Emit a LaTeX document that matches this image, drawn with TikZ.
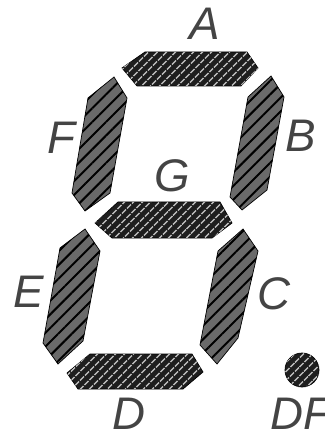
\documentclass[tikz,border=0pt]{standalone}
\usepackage{fontspec}
\setmainfont{Liberation Sans}
\usetikzlibrary{patterns.meta}
\definecolor{SegDark}{HTML}{1E1E1E}
\definecolor{SegGrey}{HTML}{6A6A6A}
\definecolor{SegDot}{HTML}{B4B4B4}
\definecolor{LabelInk}{HTML}{444444}
\tikzset{
  seghoriz/.style={draw=black,line width=0.6pt,fill=SegDark,postaction={pattern={Lines[angle=45,distance=1.9mm,line width=0.5mm]},pattern color=SegDot}},
  segvert/.style={draw=black,line width=0.6pt,fill=SegGrey,postaction={pattern={Lines[angle=45,distance=2.9mm,line width=0.6mm]},pattern color=black}},
  seglabel/.style={inner sep=0pt,text=LabelInk,font=\fontsize{39}{39}\selectfont\itshape}
}
\begin{document}
\begin{tikzpicture}[x=0.03cm,y=-0.03cm]
\path[use as bounding box] (0,0) rectangle (324,433);
\path[seghoriz] (122,68) -- (145,52) -- (247,52) -- (258,68) -- (241,86) -- (137,86) -- cycle;
\path[segvert] (271,76) -- (284,97) -- (267,190) -- (242,210) -- (230,197) -- (248,97) -- cycle;
\path[segvert] (114,77) -- (127,98) -- (110,193) -- (85,211) -- (72,193) -- (88,98) -- cycle;
\path[seghoriz] (118,202) -- (220,202) -- (232,223) -- (212,238) -- (112,238) -- (95,223) -- cycle;
\path[segvert] (85,229) -- (100,251) -- (83,341) -- (58,364) -- (43,343) -- (60,248) -- cycle;
\path[segvert] (243,229) -- (258,251) -- (238,338) -- (217,364) -- (200,345) -- (218,251) -- cycle;
\path[seghoriz] (90,354) -- (192,354) -- (203,372) -- (183,389) -- (78,389) -- (67,373) -- cycle;
\path[seghoriz] (302,370) circle (0.51cm);
\node[seglabel] (labelA) at (205,24) {A};
\node[seglabel] (labelB) at (301,136) {B};
\node[seglabel] (labelC) at (274,294) {C};
\node[seglabel] (labelD) at (129,414) {D};
\node[seglabel] (labelE) at (29,292) {E};
\node[seglabel] (labelF) at (61,138) {F};
\node[seglabel] (labelG) at (172,176) {G};
\node[seglabel,anchor=west] (labelDF) at (270,414) {DF};
\end{tikzpicture}
\end{document}
